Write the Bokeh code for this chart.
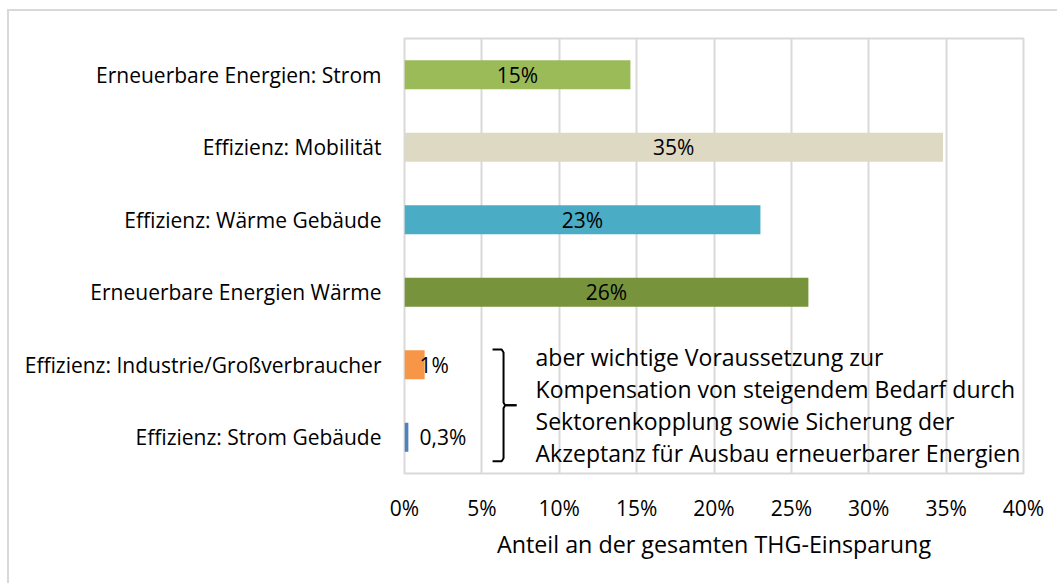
from bokeh.plotting import figure
from bokeh.models import Range1d, FixedTicker, ColumnDataSource
from bokeh.core.properties import value
from bokeh.embed import file_html
from bokeh.resources import INLINE

# ---- data ----
categories = [
    "Erneuerbare Energien: Strom",
    "Effizienz: Mobilität",
    "Effizienz: Wärme Gebäude",
    "Erneuerbare Energien Wärme",
    "Effizienz: Industrie/Großverbraucher",
    "Effizienz: Strom Gebäude",
]
shares = [14.6, 34.8, 23.0, 26.1, 1.3, 0.25]
share_labels = ["15%", "35%", "23%", "26%", "1%", "0,3%"]
bar_colors = ["#9BBB59", "#DDD9C3", "#4BACC6", "#77933C", "#F79646", "#4F81BD"]
x_ticks = [0, 5, 10, 15, 20, 25, 30, 35, 40]
x_tick_labels = ["0%", "5%", "10%", "15%", "20%", "25%", "30%", "35%", "40%"]
x_title = "Anteil an der gesamten THG-Einsparung"
note_lines = [
    "aber wichtige Voraussetzung zur",
    "Kompensation von steigendem Bedarf durch",
    "Sektorenkopplung sowie Sicherung der",
    "Akzeptanz für Ausbau erneuerbarer Energien",
]

FONT = "Open Sans"
n = len(categories)
ypos = [n - i - 0.5 for i in range(n)]

p = figure(
    width=1050, height=574,
    x_range=Range1d(0, 40), y_range=Range1d(0, n),
    output_backend="svg", toolbar_location=None,
    min_border_left=395, min_border_right=36,
    min_border_top=27, min_border_bottom=112,
)
p.styles = {
    "margin-left": "7px", "margin-top": "9px",
    "border-left": "2px solid #D9D9D9", "border-top": "2px solid #D9D9D9",
}
p.background_fill_color = "white"
p.border_fill_color = "white"
p.outline_line_color = "#D9D9D9"
p.outline_line_width = 2

# axes
p.xaxis.ticker = FixedTicker(ticks=x_ticks)
p.xaxis.major_label_overrides = {t: l for t, l in zip(x_ticks, x_tick_labels)}
p.xaxis.axis_label = x_title
p.yaxis.ticker = FixedTicker(ticks=ypos)
p.yaxis.major_label_overrides = {y: c for y, c in zip(ypos, categories)}
for ax in (p.xaxis, p.yaxis):
    ax.axis_line_color = None
    ax.major_tick_line_color = None
    ax.minor_tick_line_color = None
    ax.major_tick_out = 0
    ax.major_tick_in = 0
    ax.major_label_text_font = FONT
    ax.major_label_text_font_size = "21px"
    ax.major_label_text_color = "#000000"
p.xaxis.major_label_standoff = 20
p.yaxis.major_label_standoff = 23
p.xaxis.axis_label_text_font = FONT
p.xaxis.axis_label_text_font_size = "23.3px"
p.xaxis.axis_label_text_font_style = "normal"
p.xaxis.axis_label_text_color = "#000000"
p.xaxis.axis_label_standoff = 3

p.ygrid.visible = False
p.xgrid.grid_line_color = "#D9D9D9"
p.xgrid.grid_line_width = 2

# bars
src = ColumnDataSource(dict(
    y=ypos, v=shares, color=bar_colors, cat=categories,
    lx=[v / 2 if v >= 5 else 0 for v in shares],
    align=["center" if v >= 5 else "left" for v in shares],
    xoff=[0 if v >= 5 else 15 for v in shares],
    txt=share_labels,
))
p.hbar(y="y", left=0, right="v", height=0.40, fill_color="color",
       line_color=None, source=src)
p.text(x="lx", y="y", text="txt", text_align="align", x_offset="xoff",
       text_baseline="middle", text_font=value(FONT), text_font_size="21px",
       text_color="#000000", source=src)

# brace grouping the two small efficiency categories
y_hi = ypos[4] + 0.21
y_lo = ypos[5] - 0.33
y_mid = (y_hi + y_lo) / 2
bx_hook, bx_stem, bx_tip = 5.69, 6.4, 7.24
p.multi_line(
    xs=[[bx_hook, bx_stem - 0.12, bx_stem, bx_stem, bx_stem + 0.1, bx_tip],
        [bx_tip, bx_stem + 0.1, bx_stem, bx_stem, bx_stem - 0.12, bx_hook]],
    ys=[[y_hi, y_hi, y_hi - 0.04, y_mid + 0.04, y_mid, y_mid],
        [y_mid, y_mid, y_mid - 0.04, y_lo + 0.04, y_lo, y_lo]],
    line_color="#000000", line_width=2,
)

# explanatory note
k = len(note_lines)
p.text(x=[8.47] * k, y=[y_mid] * k, text=note_lines,
       y_offset=[(i - (k - 1) / 2) * 32 for i in range(k)],
       text_align="left", text_baseline="middle",
       text_font=value(FONT), text_font_size="23px", text_color="#000000")

open("out.html", "w").write(file_html(p, INLINE))
